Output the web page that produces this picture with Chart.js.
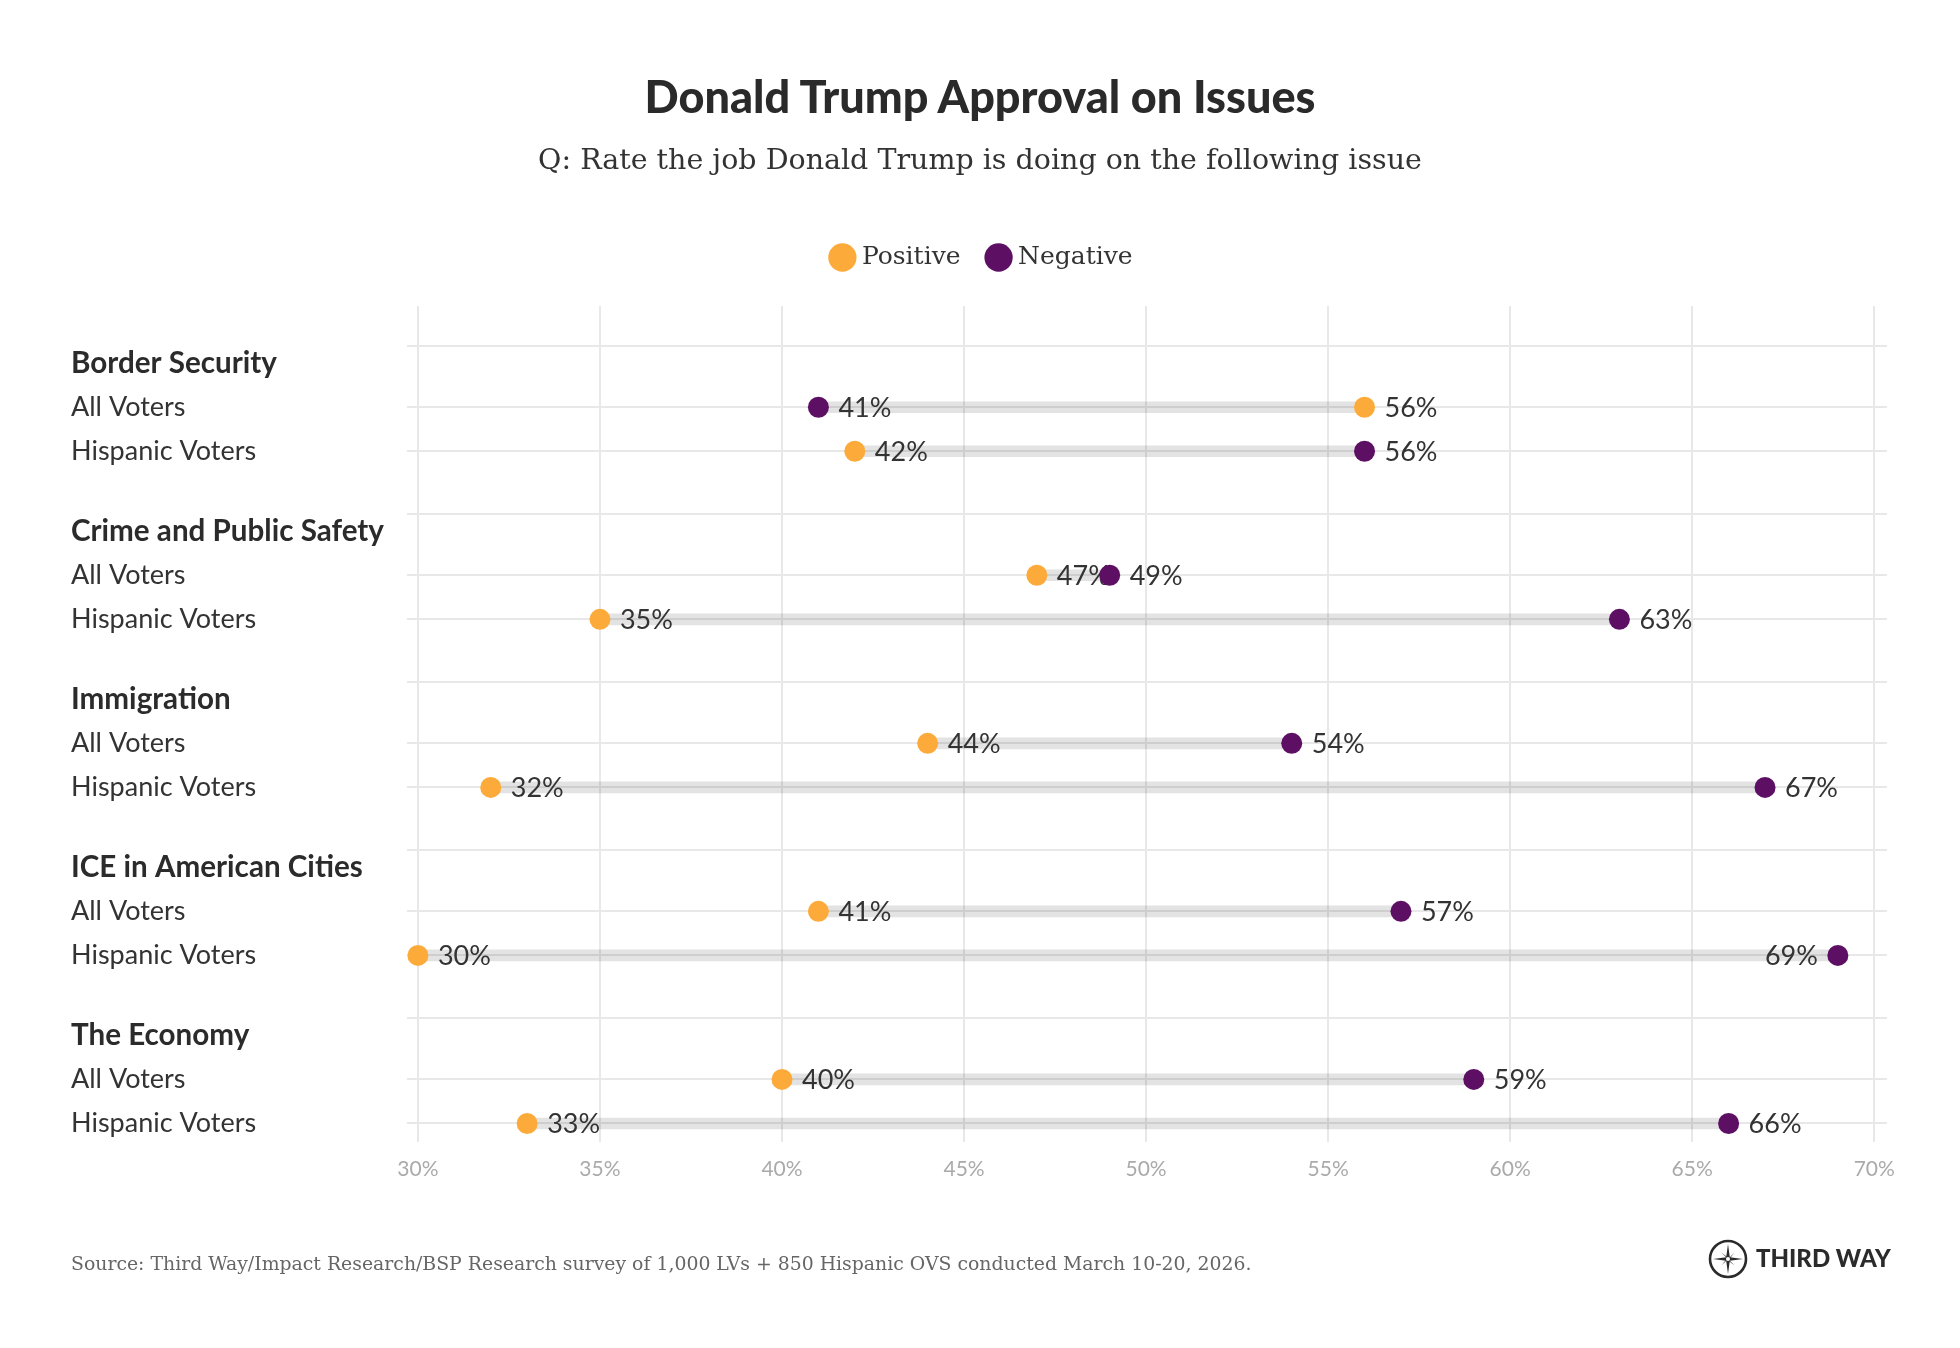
<!DOCTYPE html>
<html>
<head>
<meta charset="utf-8">
<script src="https://cdn.jsdelivr.net/npm/chart.js@4.4.1/dist/chart.umd.min.js"></script>
<style>
  html, body { margin: 0; padding: 0; background: #ffffff; }
  #wrap { position: relative; width: 1960px; height: 1348px; overflow: hidden; background: #fff; }
  #chartBox { position: absolute; left: 0; top: 0; width: 1960px; height: 1348px; }
  .ctr { position: absolute; left: 0; width: 1960px; text-align: center; white-space: nowrap; line-height: 1; }
  #title { top: 74px; font-family: Lato, sans-serif; font-weight: 900; font-size: 45px; color: #2a2a2a; }
  #subtitle { top: 146px; font-family: 'DejaVu Serif', serif; font-size: 28.5px; color: #333; }
  #source { position: absolute; left: 71px; top: 1255px; font-family: 'DejaVu Serif', serif; font-size: 18.85px;
            color: #666; line-height: 1; white-space: nowrap; }
  #logo { position: absolute; left: 1703px; top: 1234px; }
  #logotext { position: absolute; left: 1756px; top: 1246px; font-family: Lato, sans-serif; font-weight: 900;
              font-size: 24px; color: #2b2b2b; line-height: 1; white-space: nowrap; }
</style>
</head>
<body>
<div id="wrap">
  <div id="chartBox"><canvas id="c"></canvas></div>
  <div id="title" class="ctr">Donald Trump Approval on Issues</div>
  <div id="subtitle" class="ctr">Q: Rate the job Donald Trump is doing on the following issue</div>
  <div id="source">Source: Third Way/Impact Research/BSP Research survey of 1,000 LVs + 850 Hispanic OVS conducted March 10-20, 2026.</div>
  <svg id="logo" width="50" height="50" viewBox="-25 -25 50 50">
    <circle r="18" fill="none" stroke="#2b2b2b" stroke-width="2.6"/>
    <polygon points="0,-15 1.8,-1.8 15,0 1.8,1.8 0,15 -1.8,1.8 -15,0 -1.8,-1.8" fill="#2b2b2b"/>
    <polygon points="-7,-7 0.9,-0.9 7,-7 0.9,0.9 7,7 -0.9,0.9 -7,7 -0.9,-0.9" fill="#2b2b2b" transform="scale(0.9)"/>
    <circle r="2" fill="#ffffff"/>
  </svg>
  <div id="logotext">THIRD WAY</div>
</div>
<script>
// ---- data ----
const groups = ['Border Security', 'Crime and Public Safety', 'Immigration', 'ICE in American Cities', 'The Economy'];
const segments = ['All Voters', 'Hispanic Voters'];
const positive = [56, 42, 47, 35, 44, 32, 41, 30, 40, 33];
const negative = [41, 56, 49, 63, 54, 67, 57, 69, 59, 66];
const xTicks = [30, 35, 40, 45, 50, 55, 60, 65, 70];
const seriesNames = ['Positive', 'Negative'];

// ---- layout (row positions on the y scale) ----
const GROUP_STEP = 3.8125, HEADER_OFF = 0.4, ROW_OFF = [1.386, 2.386];
const Y_MIN = -0.91, Y_MAX = 4 * GROUP_STEP + 2.386 + 0.42;

const yTickList = [];   // {value, kind, label}
const rowY = [];
groups.forEach((g, gi) => {
  const base = gi * GROUP_STEP;
  yTickList.push({ value: base, kind: 'sep', label: '' });
  yTickList.push({ value: base + HEADER_OFF, kind: 'header', label: g });
  segments.forEach((s, si) => {
    yTickList.push({ value: base + ROW_OFF[si], kind: 'row', label: s });
    rowY.push(base + ROW_OFF[si]);
  });
});

const ORANGE = '#fcab3a', PURPLE = '#5c0f63';

const legendSpacer = {
  id: 'legendSpacer',
  afterInit(chart) {
    const lg = chart.legend;
    if (!lg) return;
    const orig = lg.fit.bind(lg);
    lg.fit = function () { orig(); this.height += 26; };
  },
  afterLayout(chart) {
    const lg = chart.legend;
    if (!lg) return;
    lg.left += 5; lg.right += 5;
  }
};

const dotLabels = {
  id: 'dotLabels',
  afterDatasetDraw(chart, args) {
    const ds = chart.data.datasets[args.index];
    if (ds.type !== 'scatter') return;
    const ctx = chart.ctx, area = chart.chartArea;
    ctx.save();
    ctx.font = '27px Lato';
    ctx.fillStyle = '#333333';
    ctx.textBaseline = 'alphabetic';
    args.meta.data.forEach((pt, i) => {
      const txt = ds.data[i].x + '%';
      const w = ctx.measureText(txt).width;
      let x = pt.x + 20;
      ctx.textAlign = 'left';
      if (x + w > area.right) { x = pt.x - 20; ctx.textAlign = 'right'; }
      ctx.fillText(txt, x, pt.y + 9.6);
    });
    ctx.restore();
  }
};

const labelFont = (ctx) => {
  const t = yTickList[ctx.index];
  return t && t.kind === 'header'
    ? { family: 'Lato', size: 29.6, weight: 'bold' }
    : { family: 'Lato', size: 27, weight: 'normal' };
};

new Chart(document.getElementById('c'), {
  type: 'scatter',
  data: {
    datasets: [
      {
        type: 'scatter', label: seriesNames[0],
        data: rowY.map((y, i) => ({ x: positive[i], y })),
        backgroundColor: ORANGE, borderWidth: 0, pointRadius: 10.5, pointHoverRadius: 10.5,
        pointStyle: 'circle', order: 2
      },
      {
        type: 'scatter', label: seriesNames[1],
        data: rowY.map((y, i) => ({ x: negative[i], y })),
        backgroundColor: PURPLE, borderWidth: 0, pointRadius: 10.5, pointHoverRadius: 10.5,
        pointStyle: 'circle', order: 1
      },
      {
        type: 'bar', label: 'range', indexAxis: 'y',
        data: rowY.map((y, i) => ({ x: [positive[i], negative[i]], y })),
        backgroundColor: 'rgba(0,0,0,0.11)', borderWidth: 0, barThickness: 11, order: 3
      }
    ]
  },
  options: {
    responsive: true,
    maintainAspectRatio: false,
    animation: false,
    events: [],
    devicePixelRatio: 1,
    layout: { padding: { top: 214, left: 71, right: 73, bottom: 146 } },
    plugins: {
      tooltip: { enabled: false },
      title: { display: false },
      legend: {
        display: true, position: 'top', align: 'center',
        labels: {
          usePointStyle: true, pointStyle: 'circle', boxWidth: 14, boxHeight: 20, padding: 31,
          font: { family: 'DejaVu Serif', size: 25 }, color: '#333333',
          filter: (item) => item.text !== 'range',
          sort: (a, b) => a.datasetIndex - b.datasetIndex
        }
      }
    },
    scales: {
      x: {
        type: 'linear', position: 'bottom', min: 29.7, max: 70.35, offset: false,
        afterBuildTicks: (scale) => { scale.ticks = xTicks.map(v => ({ value: v })); },
        afterFit: (scale) => { scale.height = 60; },
        ticks: {
          autoSkip: false, maxRotation: 0, padding: 15,
          font: { family: 'Lato', size: 21 }, color: '#aaaaaa',
          callback: (v) => v + '%'
        },
        grid: { color: '#e8e8e8', lineWidth: 2, drawTicks: false, offset: false },
        border: { display: false }
      },
      y: {
        type: 'linear', position: 'left', reverse: true, min: Y_MIN, max: Y_MAX, offset: false,
        afterBuildTicks: (scale) => { scale.ticks = yTickList.map(t => ({ value: t.value })); },
        afterFit: (scale) => { scale.width = 336; },
        ticks: {
          autoSkip: false, crossAlign: 'far', padding: 0,
          font: labelFont,
          color: (ctx) => { const t = yTickList[ctx.index]; return t && t.kind === 'header' ? '#2b2b2b' : '#333333'; },
          callback: (v, i) => yTickList[i] ? yTickList[i].label : ''
        },
        grid: {
          color: (ctx) => { const t = yTickList[ctx.index]; return t && t.kind === 'header' ? 'rgba(0,0,0,0)' : '#e8e8e8'; },
          lineWidth: 2, drawTicks: false, offset: false
        },
        border: { display: false }
      }
    }
  },
  plugins: [legendSpacer, dotLabels]
});
</script>
</body>
</html>
